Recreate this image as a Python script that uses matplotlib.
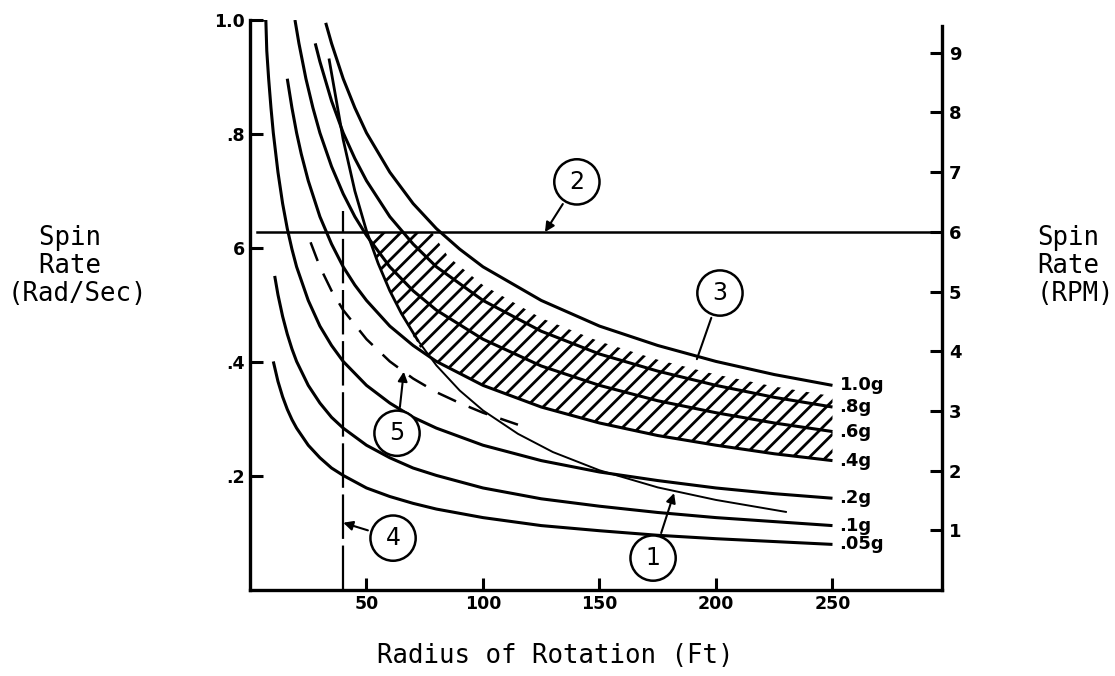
import numpy as np
import matplotlib.pyplot as plt

# spin rate (rad/s) vs radius (ft) for constant g-levels
r_10 = [32.5, 35, 40, 45, 50, 60, 70, 80, 90, 100, 125, 150, 175, 200, 225, 250]
w_10 = [0.995, 0.959, 0.897, 0.846, 0.802, 0.733, 0.678, 0.634, 0.598, 0.567, 0.508, 0.463, 0.429, 0.401, 0.378, 0.359]

r_08 = [28, 30, 35, 40, 45, 50, 60, 70, 80, 100, 125, 150, 175, 200, 225, 250]
w_08 = [0.959, 0.927, 0.858, 0.802, 0.757, 0.718, 0.655, 0.607, 0.567, 0.508, 0.454, 0.414, 0.384, 0.359, 0.338, 0.321]

r_06 = [19.3, 21, 24, 27, 30, 35, 40, 45, 50, 60, 70, 80, 100, 125, 150, 175, 200, 225, 250]
w_06 = [1.0, 0.959, 0.897, 0.846, 0.802, 0.743, 0.695, 0.655, 0.622, 0.567, 0.525, 0.491, 0.440, 0.393, 0.359, 0.332, 0.311, 0.293, 0.278]

r_04 = [16, 18, 20, 22, 25, 30, 35, 40, 45, 50, 60, 70, 80, 100, 125, 150, 175, 200, 225, 250]
w_04 = [0.897, 0.846, 0.802, 0.765, 0.718, 0.655, 0.607, 0.567, 0.535, 0.508, 0.463, 0.429, 0.401, 0.359, 0.321, 0.293, 0.271, 0.254, 0.239, 0.227]

r_02 = [0.5, 6.8, 7.2, 8, 9, 10, 12, 14, 16, 18, 20, 25, 30, 35, 40, 50, 60, 70, 80, 100, 125, 150, 175, 200, 225, 250]
w_02 = [1.0, 1.0, 0.946, 0.897, 0.846, 0.802, 0.733, 0.678, 0.634, 0.598, 0.567, 0.508, 0.463, 0.429, 0.401, 0.359, 0.328, 0.303, 0.284, 0.254, 0.227, 0.207, 0.192, 0.179, 0.169, 0.161]

r_01 = [10.6, 12, 14, 16, 18, 20, 25, 30, 35, 40, 50, 60, 70, 80, 100, 125, 150, 175, 200, 225, 250]
w_01 = [0.551, 0.518, 0.480, 0.449, 0.423, 0.401, 0.359, 0.328, 0.303, 0.284, 0.254, 0.232, 0.214, 0.201, 0.179, 0.160, 0.147, 0.136, 0.127, 0.120, 0.113]

r_005 = [10, 12, 14, 16, 18, 20, 25, 30, 35, 40, 50, 60, 70, 80, 100, 125, 150, 175, 200, 225, 250]
w_005 = [0.401, 0.366, 0.339, 0.317, 0.299, 0.284, 0.254, 0.232, 0.214, 0.201, 0.179, 0.164, 0.152, 0.142, 0.127, 0.113, 0.104, 0.096, 0.090, 0.085, 0.080]

g_labels = ["1.0g", ".8g", ".6g", ".4g", ".2g", ".1g", ".05g"]

# curve 1 (limit line) and curve 5 (dashed)
r_c1 = [34, 40, 45, 50, 55, 60, 65, 72, 80, 90, 100, 115, 130, 150, 175, 200, 230]
w_c1 = [0.93, 0.79, 0.70, 0.63, 0.573, 0.525, 0.485, 0.438, 0.394, 0.35, 0.315, 0.274, 0.242, 0.21, 0.18, 0.158, 0.137]

r_c5 = [26, 30, 35, 40, 50, 60, 70, 80, 90, 100, 115]
w_c5 = [0.61, 0.567, 0.525, 0.491, 0.44, 0.401, 0.371, 0.347, 0.328, 0.311, 0.29]

# line 2 (6 rpm limit) and line 4 (40 ft radius)
w_line2 = 0.628
r_line4 = 40
w_line4_top = 0.665

# hatched region 3
hatch_r = [50, 55, 60, 65, 72, 78, 85, 100, 125, 150, 175, 200, 225, 250]
hatch_lo = [0.628, 0.573, 0.525, 0.485, 0.43, 0.406, 0.389, 0.359, 0.321, 0.293, 0.271, 0.254, 0.239, 0.227]
hatch_hi = [0.628, 0.628, 0.628, 0.628, 0.628, 0.628, 0.585, 0.535, 0.477, 0.436, 0.404, 0.378, 0.357, 0.340]

x_ticks = [50, 100, 150, 200, 250]
y_ticks = [0.2, 0.4, 0.6, 0.8, 1.0]
y_ticklabels = [".2", ".4", "6", ".8", "1.0"]
rpm_ticks = [1, 2, 3, 4, 5, 6, 7, 8, 9]

plt.rcParams['hatch.linewidth'] = 2.0
plt.rcParams['hatch.color'] = 'black'

fig = plt.figure(figsize=(11.15, 6.76), dpi=100)
ax = fig.add_axes([250/1115, 86/676, 692/1115, 570/676])
ax.set_xlim(0, 297)
ax.set_ylim(0, 1.0)

ax.fill_between(hatch_r, hatch_lo, hatch_hi, facecolor='none', edgecolor='black',
                hatch='//', linewidth=0)

curves = [(r_10, w_10), (r_08, w_08), (r_06, w_06), (r_04, w_04),
          (r_02, w_02), (r_01, w_01), (r_005, w_005)]
for (r, w), lab in zip(curves, g_labels):
    ax.plot(r, w, color='black', lw=2.2, solid_capstyle='butt')
    ax.text(253, w[-1], lab, fontsize=13, fontweight='bold', va='center', ha='left')

# curve 1 is heavy down to the hatch, then thins out
ax.plot(r_c1[:8], w_c1[:8], color='black', lw=2.0)
ax.plot(r_c1[7:], w_c1[7:], color='black', lw=1.4)
ax.plot(r_c5, w_c5, color='black', lw=1.8, dashes=(8, 5.5))
ax.plot([3, 297], [w_line2, w_line2], color='black', lw=1.8)
ax.plot([r_line4, r_line4], [0, w_line4_top], color='black', lw=1.6, dashes=(20, 3))

# circled callouts
circ = dict(boxstyle='circle,pad=0.45', fc='white', ec='black', lw=1.8)
arr = dict(arrowstyle='-|>', color='black', lw=1.5, mutation_scale=14, shrinkB=0)
ax.annotate('1', xy=(182, 0.17), xytext=(173, 0.056), ha='center', va='center',
            fontsize=17, bbox=circ, arrowprops=arr)
ax.annotate('2', xy=(126.6, w_line2), xytext=(140.3, 0.716), ha='center', va='center',
            fontsize=17, bbox=circ, arrowprops=arr)
ax.annotate('3', xy=(191.8, 0.405), xytext=(201.7, 0.521), ha='center', va='center',
            fontsize=17, bbox=circ, arrowprops=dict(arrowstyle='-', color='black', lw=1.5, shrinkB=0))
ax.annotate('4', xy=(r_line4, 0.118), xytext=(61.4, 0.091), ha='center', va='center',
            fontsize=17, bbox=circ, arrowprops=arr)
ax.annotate('5', xy=(66, 0.383), xytext=(63.1, 0.275), ha='center', va='center',
            fontsize=17, bbox=circ, arrowprops=arr)

for s in ['top', 'right']:
    ax.spines[s].set_visible(False)
for s in ['left', 'bottom']:
    ax.spines[s].set_linewidth(2.4)
ax.set_xticks(x_ticks)
ax.set_xticklabels([str(v) for v in x_ticks], fontsize=12.5, fontweight='bold')
ax.set_yticks(y_ticks)
ax.set_yticklabels(y_ticklabels, fontsize=12.5, fontweight='bold')
ax.tick_params(direction='in', length=9, width=2.2)

ax2 = ax.twinx()
ax2.set_ylim(0, 1.0*60/(2*np.pi))
for s in ['top', 'left', 'bottom']:
    ax2.spines[s].set_visible(False)
ax2.spines['right'].set_linewidth(2.4)
ax2.spines['right'].set_bounds(0, 9.45)
ax2.set_yticks(rpm_ticks)
ax2.set_yticklabels([str(v) for v in rpm_ticks], fontsize=13, fontweight='bold')
ax2.tick_params(direction='in', length=9, width=2.2, pad=5)

mono = 'DejaVu Sans Mono'
fig.text(555/1115, 1 - 656/676, "Radius of Rotation (Ft)", family=mono, fontsize=18.5,
         ha='center', va='center')
fig.text(8/1115, 1 - 266/676, "  Spin\n  Rate\n(Rad/Sec)", family=mono, fontsize=18.5,
         ha='left', va='center', linespacing=1.1)
fig.text(1037/1115, 1 - 266/676, "Spin\nRate\n(RPM)", family=mono, fontsize=18.5,
         ha='left', va='center', linespacing=1.1)

fig.savefig('out.png', dpi=100)
